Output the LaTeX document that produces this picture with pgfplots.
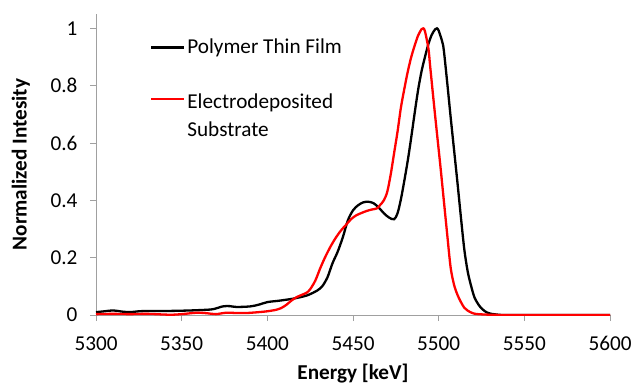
\documentclass[border=0pt]{standalone}
\usepackage{pgfplots}
\pgfplotsset{compat=1.18}
\usepackage{fontspec}
\setmainfont{Carlito}
\definecolor{axgray}{RGB}{160,160,160}
\begin{document}
\begin{tikzpicture}
\path[use as bounding box] (-96pt,-69pt) rectangle (536pt,315pt);
\begin{axis}[
  scale only axis, width=514pt, height=301pt,
  xmin=5300, xmax=5600, ymin=0, ymax=1.05,
  axis lines*=left,
  axis line style={axgray, line width=0.8pt},
  xtick={5300,5350,5400,5450,5500,5550,5600},
  ytick={0,0.2,0.4,0.6,0.8,1},
  tick align=outside, major tick length=6pt,
  tick style={axgray, line width=0.8pt},
  /pgf/number format/assume math mode=true,
  /pgf/number format/1000 sep={},
  tick label style={font=\fontsize{21.2}{25}\selectfont},
  xticklabel style={yshift=-12pt},
  yticklabel style={xshift=-9pt},
  xlabel={Energy [keV]}, ylabel={Normalized Intesity},
  label style={font=\bfseries\fontsize{21.2}{25}\selectfont},
  xlabel style={at={(axis description cs:0.5,-0.196)}, anchor=center},
  ylabel style={at={(axis description cs:-0.146,0.5)}, anchor=center},
  legend style={at={(axis description cs:0.099,0.93)}, anchor=north west,
    draw=none, fill=none, font=\fontsize{21.2}{28}\selectfont, row sep=29pt},
  legend cell align=left,
  legend image code/.code={\draw[#1] (0pt,0pt) -- (33pt,0pt);},
]
\addplot[black, line width=2.3pt, smooth] coordinates {
(5300,0.010) (5305,0.013) (5310,0.016) (5315,0.012) (5320,0.010) (5325,0.013)
(5330,0.014) (5340,0.014) (5350,0.015) (5360,0.017) (5368,0.020) (5374,0.030)
(5378,0.031) (5382,0.028) (5390,0.030) (5395,0.036) (5400,0.045) (5407,0.050)
(5415,0.057) (5423,0.068) (5429,0.085) (5432,0.100) (5435,0.130) (5438,0.180)
(5441,0.220) (5444,0.270) (5447,0.330) (5450,0.365) (5453,0.383) (5456,0.393)
(5459,0.395) (5462,0.390) (5465,0.375) (5468,0.355) (5471,0.340) (5474,0.334)
(5476,0.355) (5478,0.405) (5480,0.470) (5482,0.540) (5484,0.620) (5486,0.705)
(5488,0.785) (5490,0.850) (5492,0.900) (5494,0.945) (5496,0.978) (5498,0.997)
(5499,1.000) (5500,0.992) (5502,0.955) (5503,0.924) (5505,0.810) (5507,0.690)
(5509,0.575) (5511,0.460) (5513,0.340) (5515,0.227) (5517,0.150) (5519,0.100)
(5521,0.060) (5524,0.030) (5527,0.013) (5530,0.005) (5535,0.001) (5540,0)
(5570,0) (5600,0)
};
\addlegendentry{Polymer Thin Film}
\addplot[red, line width=2.3pt, smooth] coordinates {
(5300,0.003) (5310,0.004) (5320,0.003) (5330,0.004) (5343,0.001) (5350,0.003)
(5359,0.008) (5365,0.006) (5370,0.003) (5376,0.008) (5382,0.007) (5388,0.007)
(5395,0.010) (5400,0.013) (5405,0.018) (5408,0.024) (5411,0.035) (5414,0.050)
(5417,0.062) (5420,0.070) (5423,0.078) (5425,0.090) (5428,0.120) (5431,0.165)
(5434,0.205) (5437,0.240) (5440,0.270) (5443,0.295) (5446,0.315) (5449,0.335)
(5452,0.348) (5455,0.356) (5458,0.363) (5461,0.368) (5464,0.372) (5466,0.385)
(5468,0.400) (5470,0.430) (5472,0.490) (5474,0.565) (5476,0.640) (5478,0.725)
(5480,0.790) (5482,0.850) (5484,0.900) (5486,0.940) (5488,0.975) (5490,0.997)
(5491,1.000) (5492,0.990) (5494,0.930) (5495,0.870) (5497,0.750) (5499,0.634)
(5501,0.520) (5503,0.400) (5505,0.280) (5507,0.165) (5509,0.105) (5511,0.070)
(5513,0.045) (5515,0.025) (5517,0.015) (5520,0.006) (5523,0.003) (5530,0.001)
(5540,0) (5570,0) (5600,0)
};
\addlegendentry{\begin{tabular}[t]{@{}l@{}}Electrodeposited\\Substrate\end{tabular}}
\end{axis}
\end{tikzpicture}
\end{document}
